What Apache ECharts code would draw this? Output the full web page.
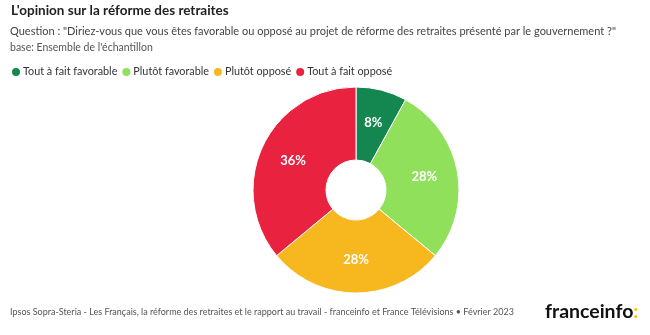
<!DOCTYPE html>
<html>
<head>
<meta charset="utf-8">
<script src="https://cdn.jsdelivr.net/npm/echarts@6/dist/echarts.min.js"></script>
<style>
  html, body { margin: 0; padding: 0; background: #fff; }
  #chart { width: 650px; height: 335px; }
</style>
</head>
<body>
<div id="chart"></div>
<script>
// Opinion categories and their shares (%)
const categories = ['Tout à fait favorable', 'Plutôt favorable', 'Plutôt opposé', 'Tout à fait opposé'];
const shares = [8, 28, 28, 36];
const colors = ['#13874f', '#91e05c', '#f7b81f', '#e8223f'];

const FONT = 'Lato, "Open Sans", sans-serif';

const chart = echarts.init(document.getElementById('chart'), null, { renderer: 'canvas' });

chart.setOption({
  backgroundColor: '#ffffff',
  animation: false,
  title: [
    {
      text: "L'opinion sur la réforme des retraites",
      left: 11, top: 4, padding: 0,
      textStyle: { fontFamily: FONT, fontSize: 13.5, fontWeight: 'bold', color: '#222' }
    },
    {
      text: 'Question : "Diriez-vous que vous êtes favorable ou opposé au projet de réforme des retraites présenté par le gouvernement ?"',
      left: 10, top: 26, padding: 0,
      textStyle: { fontFamily: FONT, fontSize: 11, fontWeight: 'normal', color: '#444' }
    },
    {
      text: "base: Ensemble de l'échantillon",
      left: 10, top: 42, padding: 0,
      textStyle: { fontFamily: FONT, fontSize: 10.5, fontWeight: 'normal', color: '#555' }
    },
    {
      text: 'Ipsos Sopra-Steria - Les Français, la réforme des retraites et le rapport au travail - franceinfo et France Télévisions • Février 2023',
      left: 10, top: 308, padding: 0,
      textStyle: { fontFamily: FONT, fontSize: 9, fontWeight: 'normal', color: '#555' }
    },
    {
      text: '{a|franceinfo}{b|:}',
      left: 545, top: 302, padding: 0,
      textStyle: {
        rich: {
          a: { fontFamily: FONT, fontSize: 19.5, fontWeight: 'bold', color: '#111' },
          b: { fontFamily: FONT, fontSize: 19.5, fontWeight: 'bold', color: '#f5c400' }
        }
      }
    }
  ],
  legend: {
    left: 10, top: 66, padding: 0,
    icon: 'circle',
    itemWidth: 10, itemHeight: 10,
    itemGap: 3,
    textStyle: { fontFamily: FONT, fontSize: 10.8, color: '#333', padding: [0, 0, 0, -3] },
    data: categories
  },
  series: [{
    type: 'pie',
    center: [356, 190],
    radius: [30, 103],
    startAngle: 90,
    clockwise: true,
    avoidLabelOverlap: false,
    itemStyle: { borderColor: '#fff', borderWidth: 1 },
    label: {
      show: true,
      position: 'inside',
      formatter: '{c}%',
      fontFamily: FONT,
      fontSize: 13,
      fontWeight: 'bold',
      color: '#fff'
    },
    labelLine: { show: false },
    emphasis: { disabled: true },
    data: categories.map((name, i) => ({
      name,
      value: shares[i],
      itemStyle: { color: colors[i] }
    }))
  }]
});
</script>
</body>
</html>
